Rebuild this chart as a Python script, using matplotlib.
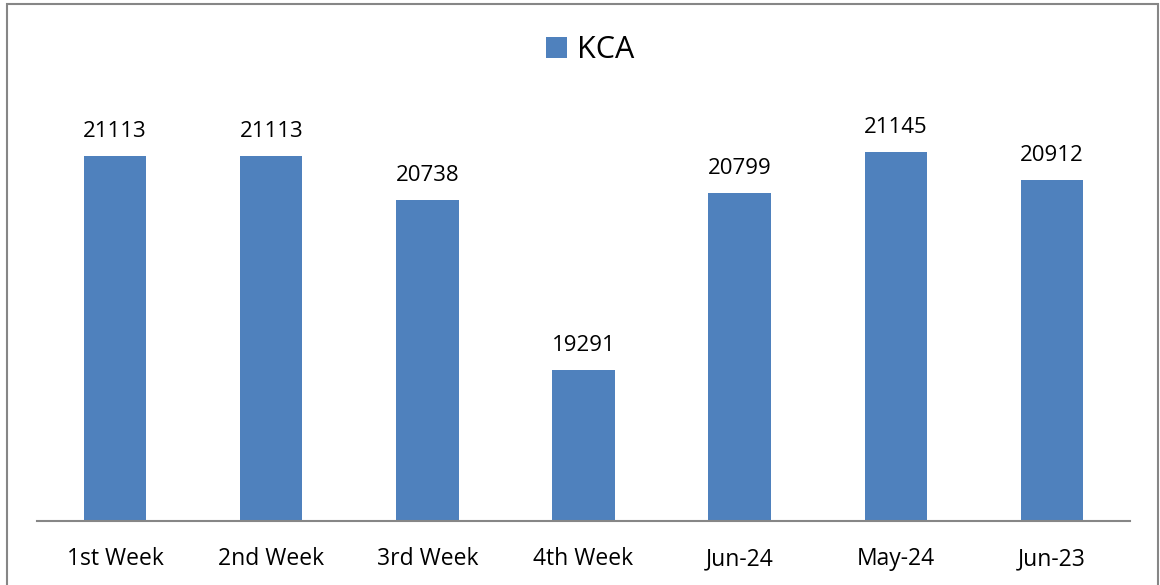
import matplotlib.pyplot as plt
from matplotlib.patches import Rectangle

categories = ['1st Week', '2nd Week', '3rd Week', '4th Week', 'Jun-24', 'May-24', 'Jun-23']
kca = [21113, 21113, 20738, 19291, 20799, 21145, 20912]

plt.rcParams['font.family'] = ['Open Sans', 'DejaVu Sans']

fig = plt.figure(figsize=(11.6, 5.85), dpi=100)
ax = fig.add_axes([37/1160, 1 - 521/585, (1130 - 37)/1160, (521 - 52)/585])

x = range(len(categories))
bars = ax.bar(x, kca, width=0.4, color='#4F81BD', label='KCA', zorder=2)
for i, v in enumerate(kca):
    ax.annotate(str(v), (i, v), xytext=(0, 10), textcoords='offset points',
                ha='center', va='bottom', fontsize=16)

ax.set_ylim(18000, 22000)
ax.set_xlim(-0.5, len(categories) - 0.5)
ax.set_xticks(list(x))
ax.set_xticklabels(categories, fontsize=16.5)
ax.tick_params(axis='x', length=0, pad=19)
ax.set_yticks([])
for s in ['top', 'left', 'right']:
    ax.spines[s].set_visible(False)
ax.spines['bottom'].set_color('#868686')
ax.spines['bottom'].set_linewidth(1.5)

fig.legend(loc='center', bbox_to_anchor=(590/1160, 1 - 50/585), frameon=False,
           fontsize=22, handlelength=0.7, handleheight=0.7, handletextpad=0.3)

# outer chart border
fig.patches.append(Rectangle((7/1160, -0.05), (1158 - 7)/1160, 1.05 - 4/585,
                             transform=fig.transFigure, fill=False,
                             edgecolor='#868686', linewidth=1.5))

fig.savefig('out.png', dpi=100)
